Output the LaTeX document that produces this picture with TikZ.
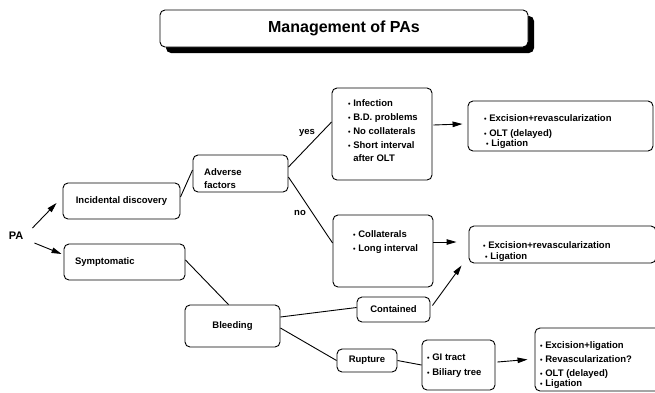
\documentclass[tikz,border=0pt]{standalone}
\usepackage{fontspec}
\usepackage{graphicx}
\setmainfont{Liberation Sans}
\usetikzlibrary{arrows.meta,calc,shadows}
\newcommand\mybul{\raisebox{0.6pt}{\scalebox{0.75}{•}}\ }
\begin{document}
\begin{tikzpicture}[x=1pt,y=-1pt,
  every node/.style={font=\fontsize{9.5}{14}\selectfont\bfseries},
  box/.style={draw, line width=0.9pt, rounded corners=5pt, inner sep=0pt, fill=white},
  txt/.style={inner sep=0pt, align=left, anchor=north west},
  conn/.style={line width=0.9pt},
  arr/.style={line width=0.9pt, -{Triangle[length=10pt,width=5.5pt]}},
]
\useasboundingbox (0,0) rectangle (655,392);
\clip (0,0) rectangle (655,392);

% title
\node[box, minimum width=368, minimum height=37,
      font=\fontsize{16}{18}\selectfont\bfseries,
      drop shadow={shadow xshift=6pt, shadow yshift=-6pt, opacity=1, fill=black}]
      (title) at (344,28.5) {Management of PAs};

% nodes
\node[inner sep=1pt, font=\fontsize{11}{13}\selectfont\bfseries] (pa) at (16,236) {PA};
\node[box, minimum width=117, minimum height=36] (inc) at (121.5,201) {Incidental discovery};
\node[box, minimum width=121, minimum height=36, text width=99pt, align=left, inner xsep=11pt] (sym) at (124.5,262) {Symptomatic};
\node[box, minimum width=95, minimum height=37] (adv) at (240.5,173.5) {};
\node[txt] (advT) at (204,165.7) {\strut Adverse\\[-1pt]factors};

\node[box, minimum width=100, minimum height=92] (inf) at (382,134) {};
\node[txt] (infT) at (348,96.7) {\strut\mybul Infection\\\mybul B.D. problems\\\mybul No collaterals\\\mybul Short interval\\[-1pt]\phantom{\mybul}after OLT};

\node[box, minimum width=185, minimum height=50] (exc1) at (560.5,126) {};
\node[txt] (exc1T) at (484,111.7) {\strut\mybul Excision+revascularization\\[1pt]\mybul OLT (delayed)\\[-4pt]\hspace{2pt}\mybul Ligation};

\node[box, minimum width=100, minimum height=72] (col) at (383,251) {};
\node[txt] (colT) at (353,227.7) {\strut\mybul Collaterals\\\mybul Long interval};

\node[box, minimum width=187, minimum height=37] (exc2) at (562.5,244.5) {};
\node[txt] (exc2T) at (483,238.7) {\strut\mybul Excision+revascularization\\[-3pt]\hspace{2pt}\mybul Ligation};

\node[box, minimum width=73, minimum height=25] (cont) at (393.5,309.5) {Contained};
\node[box, minimum width=95, minimum height=42] (bleed) at (232.5,326) {Bleeding};
\node[box, minimum width=60, minimum height=23] (rup) at (367,360.5) {Rupture};

\node[box, minimum width=73, minimum height=50] (gi) at (458.5,365) {};
\node[txt] (giT) at (427,350.7) {\strut\mybul GI tract\\[1pt]\mybul Biliary tree};

\node[box, minimum width=127, minimum height=63] (exc3) at (598.5,359.5) {};
\node[txt] (exc3T) at (540,338.7) {\strut\mybul Excision+ligation\\\mybul Revascularization?\\\mybul OLT (delayed)\\[-4pt]\mybul Ligation};

\node[inner sep=0pt] (yes) at (307,133) {yes};
\node[inner sep=0pt] (no) at (300,213) {no};

% connectors
\draw[arr] ($(pa.east)+(8,-8)$) -- ($(inc.west)+(-6,2)$);
\draw[arr] ($(pa.east)+(10,7)$) -- ($(sym.west)+(-2,-8)$);
\draw[conn] ($(inc.east)+(0,-4)$) -- ($(adv.west)+(0,-3.5)$);
\draw[conn] ($(adv.east)+(0,-6.5)$) -- ($(inf.west)+(0,-12)$);
\draw[conn] ($(adv.east)+(0,3.5)$) -- ($(col.west)+(0,-8)$);
\draw[arr] ($(inf.east)+(1,-9)$) -- ($(exc1.west)+(-5,-2)$);
\draw[arr] ($(col.east)+(0,-9)$) -- ($(exc2.west)+(-12,-2.5)$);
\draw[conn] ($(sym.east)+(0,-2)$) -- ($(bleed.north)+(-4,0)$);
\draw[conn] ($(bleed.east)+(0,-9)$) -- ($(cont.west)+(0,-2)$);
\draw[conn] ($(bleed.east)+(0,2)$) -- (rup.west);
\draw[arr] ($(cont.east)+(2,-4)$) -- ($(exc2.south west)+(-7,2)$);
\draw[conn] (rup.east) -- (gi.west);
\draw[arr] ($(gi.east)+(2,-3)$) -- ($(exc3.west)+(-7,0)$);
\end{tikzpicture}
\end{document}
